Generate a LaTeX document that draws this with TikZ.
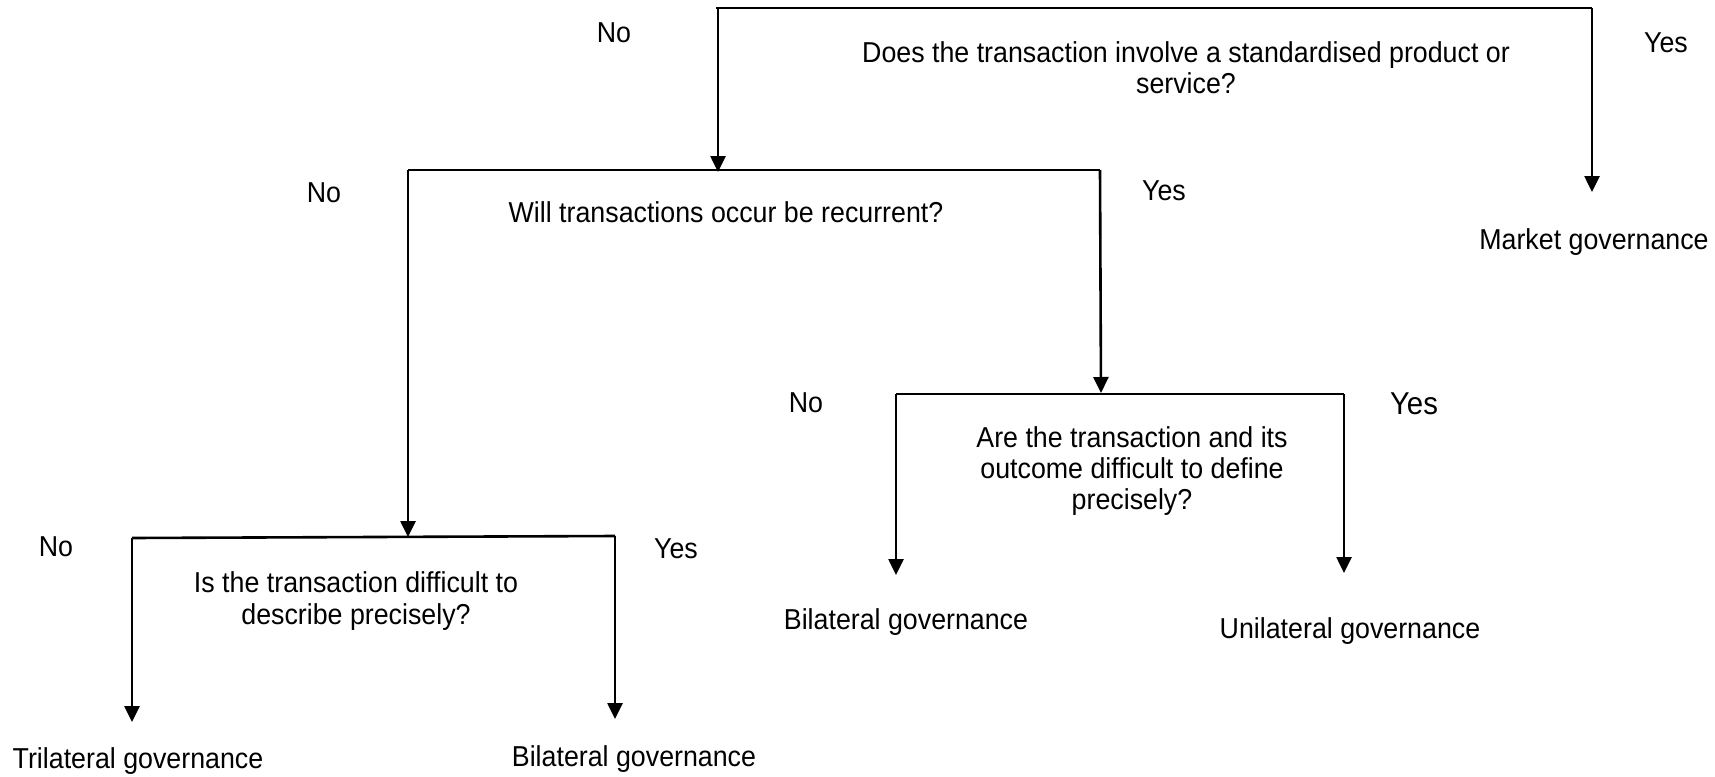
\documentclass[tikz,border=0pt]{standalone}
\usepackage{fontspec}
\setmainfont{Liberation Sans}[FakeStretch=0.93]
\usetikzlibrary{arrows.meta}

\begin{document}
\begin{tikzpicture}[x=0.5pt,y=-0.5pt,
  lbl/.style={font=\fontsize{14.4}{15.6}\selectfont, inner sep=0pt, align=center},
  biglbl/.style={font=\fontsize{15.8}{17}\selectfont, inner sep=0pt},
  wire/.style={line width=1.3pt},
  arr/.style={wire, -{Triangle[width=7.5pt,length=8pt]}}]
\useasboundingbox (0,0) rectangle (1715,777);

% questions
\node[lbl] (q1) at (1186,68) {Does the transaction involve a standardised product or\\service?};
\node[lbl] (q2) at (726,212) {Will transactions occur be recurrent?};
\node[lbl] (q3) at (356,601) {Is the transaction difficult to\\describe precisely?};
\node[lbl] (q4) at (1132,471) {Are the transaction and its\\outcome difficult to define\\precisely?};

% outcomes
\node[lbl] (market) at (1594,242) {Market governance};
\node[lbl] (tri) at (138,761) {Trilateral governance};
\node[lbl] (bi1) at (634,759) {Bilateral governance};
\node[lbl] (bi2) at (906,622) {Bilateral governance};
\node[lbl] (uni) at (1350,631) {Unilateral governance};

% branch labels
\node[lbl] (n1) at (614,33) {No};
\node[lbl] (y1) at (1666,43) {Yes};
\node[lbl] (n2) at (324,193) {No};
\node[lbl] (y2) at (1164,191) {Yes};
\node[lbl] (n3) at (56,547) {No};
\node[lbl] (y3) at (676,549) {Yes};
\node[lbl] (n4) at (806,403) {No};
\node[biglbl] (y4) at (1414,404) {Yes};

% junction bars
\coordinate (b1l) at (716,8);
\coordinate (b1r) at (1592,8);
\coordinate (b1d) at (718,8);
\coordinate (b2l) at (408,170);
\coordinate (b2r) at (1100,170);
\coordinate (b3l) at (132,538);
\coordinate (b3r) at (615,536);
\coordinate (b4l) at (896,394);
\coordinate (b4r) at (1344,394);

% arrow ends
\coordinate (a1) at (718,172);
\coordinate (am) at (1592,192);
\coordinate (a2l) at (408,537);
\coordinate (a2r) at (1101,393);
\coordinate (atri) at (132,722);
\coordinate (abi1) at (615,719);
\coordinate (abi2) at (896,575);
\coordinate (auni) at (1344,573);

\draw[wire] (b1l) -- (b1r);
\draw[arr] (b1d) -- (a1);
\draw[arr] (b1r) -- (am);

\draw[wire] (b2l) -- (b2r);
\draw[arr] (b2l) -- (a2l);
\draw[arr] (b2r) -- (a2r);

\draw[wire] (b3l) -- (b3r);
\draw[arr] (b3l) -- (atri);
\draw[arr] (b3r) -- (abi1);

\draw[wire] (b4l) -- (b4r);
\draw[arr] (b4l) -- (abi2);
\draw[arr] (b4r) -- (auni);
\end{tikzpicture}
\end{document}
